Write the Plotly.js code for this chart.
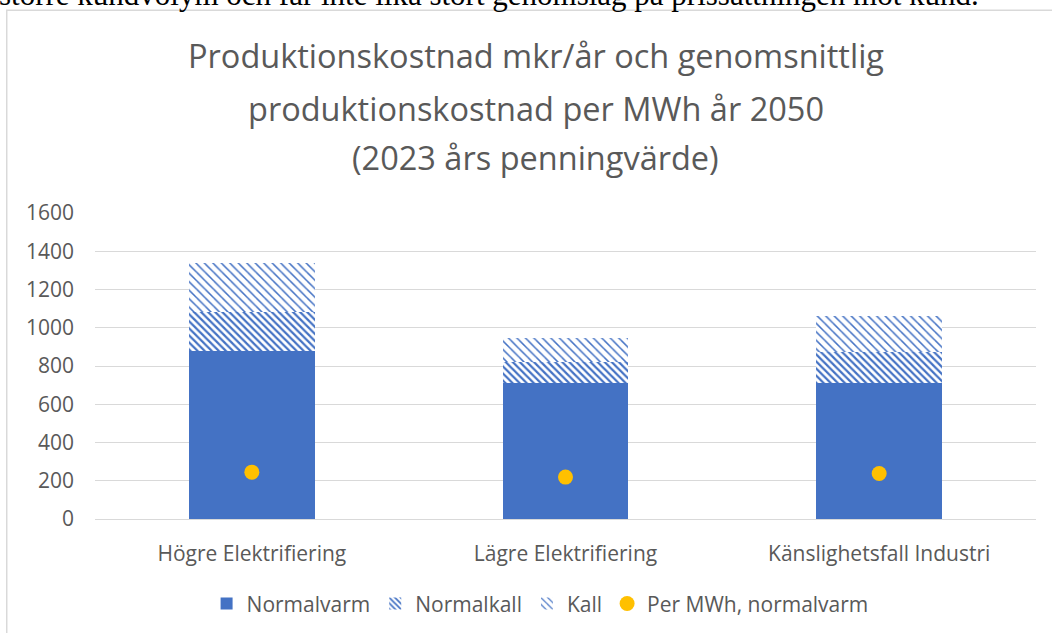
<!DOCTYPE html>
<html>
<head>
<meta charset="utf-8">
<script src="https://cdn.plot.ly/plotly-3.0.1.min.js"></script>
<style>
  html, body { margin: 0; padding: 0; background: #fff; }
  #chart { width: 1052px; height: 633px; }
</style>
</head>
<body>
<div id="chart"></div>
<script>
const categories = ["Högre Elektrifiering", "Lägre Elektrifiering", "Känslighetsfall Industri"];
const normalvarm = [880, 713, 713];
const normalkall = [204, 110, 158];
const kall = [252, 122, 190];
const perMWh = [245, 219, 238];

const blue = "#4472C4";
const grey = "#595959";
const font = "'Open Sans', 'Noto Sans', sans-serif";

const traces = [
  {
    type: "bar",
    x: categories,
    y: normalvarm,
    name: "Normalvarm",
    marker: { color: blue, line: { width: 0 } },
  },
  {
    type: "bar",
    x: categories,
    y: normalkall,
    name: "Normalkall",
    marker: {
      color: blue,
      line: { width: 0 },
      pattern: { shape: "\\", fgcolor: blue, bgcolor: "#ffffff", size: 5, solidity: 0.45 },
    },
  },
  {
    type: "bar",
    x: categories,
    y: kall,
    name: "Kall",
    marker: {
      color: blue,
      line: { width: 0 },
      pattern: { shape: "\\", fgcolor: blue, bgcolor: "#ffffff", size: 6, solidity: 0.25 },
    },
  },
  {
    type: "scatter",
    mode: "markers",
    x: categories,
    y: perMWh,
    name: "Per MWh, normalvarm",
    marker: { color: "#FFC000", size: 15 },
  },
];

// title lines are placed one by one to get the wider line spacing of the original
const titleLines = [
  "Produktionskostnad mkr/år och genomsnittlig",
  "produktionskostnad per MWh år 2050",
  "(2023 års penningvärde)",
];
const titleY = [1.516, 1.341, 1.181];

const annotations = titleLines.map((t, i) => ({
  text: t,
  xref: "paper",
  yref: "paper",
  x: 0.4685,
  y: titleY[i],
  xanchor: "center",
  yanchor: "middle",
  showarrow: false,
  font: { family: font, size: 32.5, color: grey },
}));

// cut-off line of the surrounding document
annotations.push({
  text: "större kundvolym och får inte lika stort genomslag på prissättningen mot kund.",
  xref: "paper",
  yref: "paper",
  x: -0.104,
  y: 1.651,
  xanchor: "left",
  yanchor: "bottom",
  showarrow: false,
  font: { family: "'Liberation Serif', serif", size: 31, color: "#000" },
});

const layout = {
  width: 1052,
  height: 633,
  paper_bgcolor: "#ffffff",
  plot_bgcolor: "#ffffff",
  barmode: "stack",
  bargap: 0.6,
  showlegend: true,
  margin: { t: 213, b: 114, l: 95, r: 16, pad: 0 },
  font: { family: font, color: grey },
  xaxis: {
    type: "category",
    automargin: false,
    showgrid: false,
    showline: false,
    zeroline: false,
    ticks: "",
    ticklabelstandoff: 20,
    tickfont: { family: font, size: 21, color: grey },
  },
  yaxis: {
    range: [0, 1600],
    dtick: 200,
    automargin: false,
    showgrid: true,
    gridcolor: "#d9d9d9",
    gridwidth: 1,
    zeroline: true,
    zerolinecolor: "#d9d9d9",
    zerolinewidth: 1,
    showline: false,
    ticks: "",
    ticklabelstandoff: 20,
    tickfont: { family: font, size: 21, color: grey },
  },
  legend: {
    orientation: "h",
    x: 0.473,
    xanchor: "center",
    yref: "container",
    y: 0.046,
    yanchor: "middle",
    font: { family: font, size: 21, color: grey },
    traceorder: "normal",
  },
  annotations: annotations,
  shapes: [
    {
      type: "rect",
      xref: "paper",
      yref: "paper",
      x0: -0.0938,
      x1: 1.2,
      y0: -0.6,
      y1: 1.6628,
      line: { color: "#d9d9d9", width: 1.5 },
      fillcolor: "rgba(0,0,0,0)",
      layer: "below",
    },
  ],
};

Plotly.newPlot("chart", traces, layout, { displayModeBar: false, responsive: false });
</script>
</body>
</html>
